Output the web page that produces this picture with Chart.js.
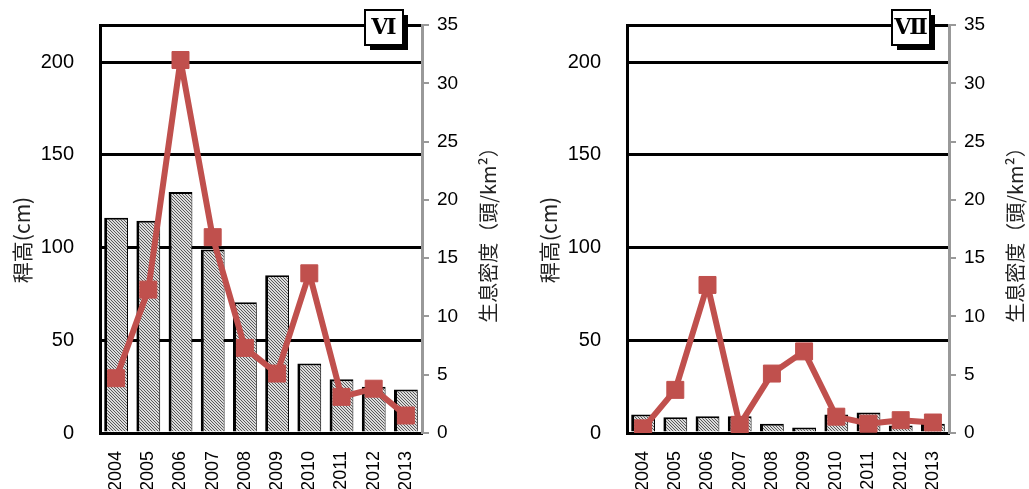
<!DOCTYPE html>
<html>
<head>
<meta charset="utf-8">
<script src="https://cdn.jsdelivr.net/npm/chart.js@4"></script>
<style>
  body { margin: 0; background: #fff; width: 1029px; height: 489px; overflow: hidden; position: relative; }
  .panel { position: absolute; top: 0; height: 489px; }
</style>
</head>
<body>
<div class="panel" style="left:0;width:514px"><canvas id="chartVI"></canvas></div>
<div class="panel" style="left:527px;width:502px"><canvas id="chartVII"></canvas></div>
<script>
const years = ['2004', '2005', '2006', '2007', '2008', '2009', '2010', '2011', '2012', '2013'];
const heightVI = [116, 114.5, 130, 99, 70.5, 85, 37.5, 29, 25, 23.5];
const densityVI = [4.7, 12.3, 32, 16.8, 7.3, 5.1, 13.7, 3.1, 3.8, 1.5];
const heightVII = [10, 8.5, 9, 9, 5, 3, 10, 11, 4, 5];
const densityVII = [0.4, 3.7, 12.7, 0.7, 5.1, 7.0, 1.4, 0.8, 1.1, 0.9];
const leftTicks = [0, 50, 100, 150, 200];
const leftMax = 220;
const rightTicks = [0, 5, 10, 15, 20, 25, 30, 35];
const leftTitle = '稈高(cm)';
const rightTitle = '生息密度（頭/km²）';

// hatched grey fill for the bars
function hatch() {
  const c = document.createElement('canvas');
  c.width = 3; c.height = 3;
  const g = c.getContext('2d');
  g.fillStyle = '#dcdcdc';
  g.fillRect(0, 0, 3, 3);
  g.fillStyle = '#5a5a5a';
  for (let i = 0; i < 3; i++) g.fillRect(i, i, 1, 1);
  return g.createPattern(c, 'repeat');
}

const red = '#c0504d';
const font = "'Liberation Sans', Arial, sans-serif";

// axis titles and the roman numeral box
const decorations = {
  id: 'decorations',
  afterDraw(chart, args, opts) {
    const ctx = chart.ctx;
    const a = chart.chartArea;
    ctx.save();
    ctx.fillStyle = '#222';
    ctx.font = "21px 'Noto Sans CJK JP', sans-serif";
    ctx.textAlign = 'center';
    ctx.textBaseline = 'middle';
    ctx.translate(22, 240);
    ctx.rotate(-Math.PI / 2);
    ctx.fillText(leftTitle, 0, 0);
    ctx.restore();

    ctx.save();
    ctx.fillStyle = '#222';
    ctx.font = "20px 'Noto Sans CJK JP', sans-serif";
    ctx.textAlign = 'center';
    ctx.textBaseline = 'middle';
    ctx.translate(a.right + 66, 230);
    ctx.rotate(-Math.PI / 2);
    ctx.fillText(rightTitle, 0, 0);
    ctx.restore();

    // label box with shadow
    const bx = a.right - 57, by = 10, bw = 38, bh = 35;
    ctx.save();
    ctx.fillStyle = '#000';
    ctx.fillRect(bx + 5, by + 5, bw, bh);
    ctx.fillStyle = '#fff';
    ctx.fillRect(bx, by, bw, bh);
    ctx.lineWidth = 2;
    ctx.strokeStyle = '#000';
    ctx.strokeRect(bx, by, bw, bh);
    ctx.fillStyle = '#000';
    ctx.font = "bold 22px 'Liberation Serif', 'DejaVu Serif', serif";
    ctx.textAlign = 'center';
    ctx.textBaseline = 'middle';
    ctx.fillText(opts.label, bx + bw / 2, by + bh / 2 + 1);
    ctx.restore();
  }
};

function makePanel(id, heights, density, label, canvasWidth) {
  return new Chart(document.getElementById(id), {
    data: {
      labels: years,
      datasets: [{
        type: 'line',
        data: density,
        yAxisID: 'y2',
        borderColor: red,
        borderWidth: 6,
        borderJoinStyle: 'bevel',
        pointStyle: 'rect',
        pointRadius: 12,
        pointBackgroundColor: red,
        pointBorderColor: red,
        pointBorderWidth: 1,
        order: 0
      }, {
        type: 'bar',
        data: heights,
        yAxisID: 'y',
        backgroundColor: hatch(),
        borderColor: '#000',
        borderWidth: { left: 3, right: 1, top: 2, bottom: 0 },
        borderSkipped: false,
        barPercentage: 0.74,
        categoryPercentage: 1,
        order: 1
      }]
    },
    options: {
      responsive: true,
      maintainAspectRatio: false,
      animation: false,
      layout: { padding: { top: 25, left: 0, right: 0, bottom: 0 } },
      plugins: { legend: { display: false }, tooltip: { enabled: false }, decorations: { label } },
      scales: {
        x: {
          grid: { display: false },
          border: { color: '#000', width: 3 },
          ticks: { color: '#000', font: { family: font, size: 18 }, minRotation: 90, maxRotation: 90, padding: 10 },
          afterFit(s) { s.height = 56; }
        },
        y: {
          position: 'left',
          min: 0,
          max: leftMax,
          afterBuildTicks(s) { s.ticks = leftTicks.concat([leftMax]).map(v => ({ value: v })); },
          ticks: { color: '#000', font: { family: font, size: 20 }, padding: 6, callback: v => leftTicks.includes(v) ? v : '' },
          grid: { color: '#000', lineWidth: 3, drawTicks: true, tickLength: 20, tickColor: 'rgba(0,0,0,0)' },
          border: { color: '#000', width: 3 },
          afterFit(s) { s.width = 100; }
        },
        y2: {
          position: 'right',
          min: 0,
          max: 35,
          afterBuildTicks(s) { s.ticks = rightTicks.map(v => ({ value: v })); },
          ticks: { color: '#000', font: { family: font, size: 19 }, padding: 8 },
          grid: { drawOnChartArea: false, color: '#999', lineWidth: 2, tickLength: 7 },
          border: { color: '#999', width: 3 },
          afterFit(s) { s.width = canvasWidth - 422; }
        }
      }
    },
    plugins: [decorations]
  });
}

makePanel('chartVI', heightVI, densityVI, 'Ⅵ', 514);
makePanel('chartVII', heightVII, densityVII, 'Ⅶ', 502);
</script>
</body>
</html>
